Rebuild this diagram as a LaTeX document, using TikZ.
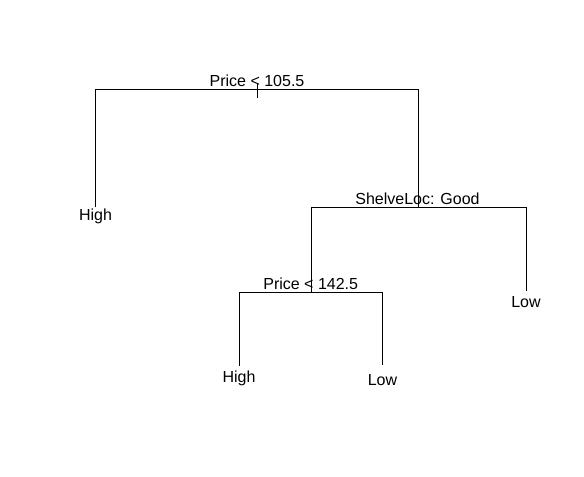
\documentclass[tikz,border=0pt]{standalone}
\usepackage{fontspec}
\setmainfont{Liberation Sans}
\begin{document}
\begin{tikzpicture}[x=0.75pt,y=-0.75pt,
  edge/.style={draw=black,line width=0.75pt},
  lbl/.style={inner sep=0pt,anchor=base,font=\fontsize{12}{14}\selectfont,text=black}]
\useasboundingbox (0,0) rectangle (584,476);
% joints
\coordinate (r) at (257,89.5);
\coordinate (rt1) at (257,84);
\coordinate (rt2) at (257,98);
\coordinate (s) at (418,207);
\coordinate (p) at (311,292);
\coordinate (l1) at (95,207);
\coordinate (l2) at (526,291);
\coordinate (l3) at (239,366);
\coordinate (l4) at (382,365);
% labels
\node[lbl] (tr) at (257,86.8) {Price < 105.5};
\node[lbl] (ts) at (417.5,204) {ShelveLoc: Good};
\node[lbl] (tp) at (310.7,289) {Price < 142.5};
\node[lbl] (t1) at (95.5,220.7) {High};
\node[lbl] (t2) at (526,307.7) {Low};
\node[lbl] (t3) at (239,382.3) {High};
\node[lbl] (t4) at (382.5,385.7) {Low};
% edges
\draw[edge] (rt1) -- (rt2);
\draw[edge] (l1) -- (l1 |- r) -- (s |- r) -- (s);
\draw[edge] (p) -- (p |- s);
\draw[edge] (p |- s) -- (l2 |- s) -- (l2);
\draw[edge] (l3) -- (l3 |- p) -- (l4 |- p) -- (l4);
\end{tikzpicture}
\end{document}
